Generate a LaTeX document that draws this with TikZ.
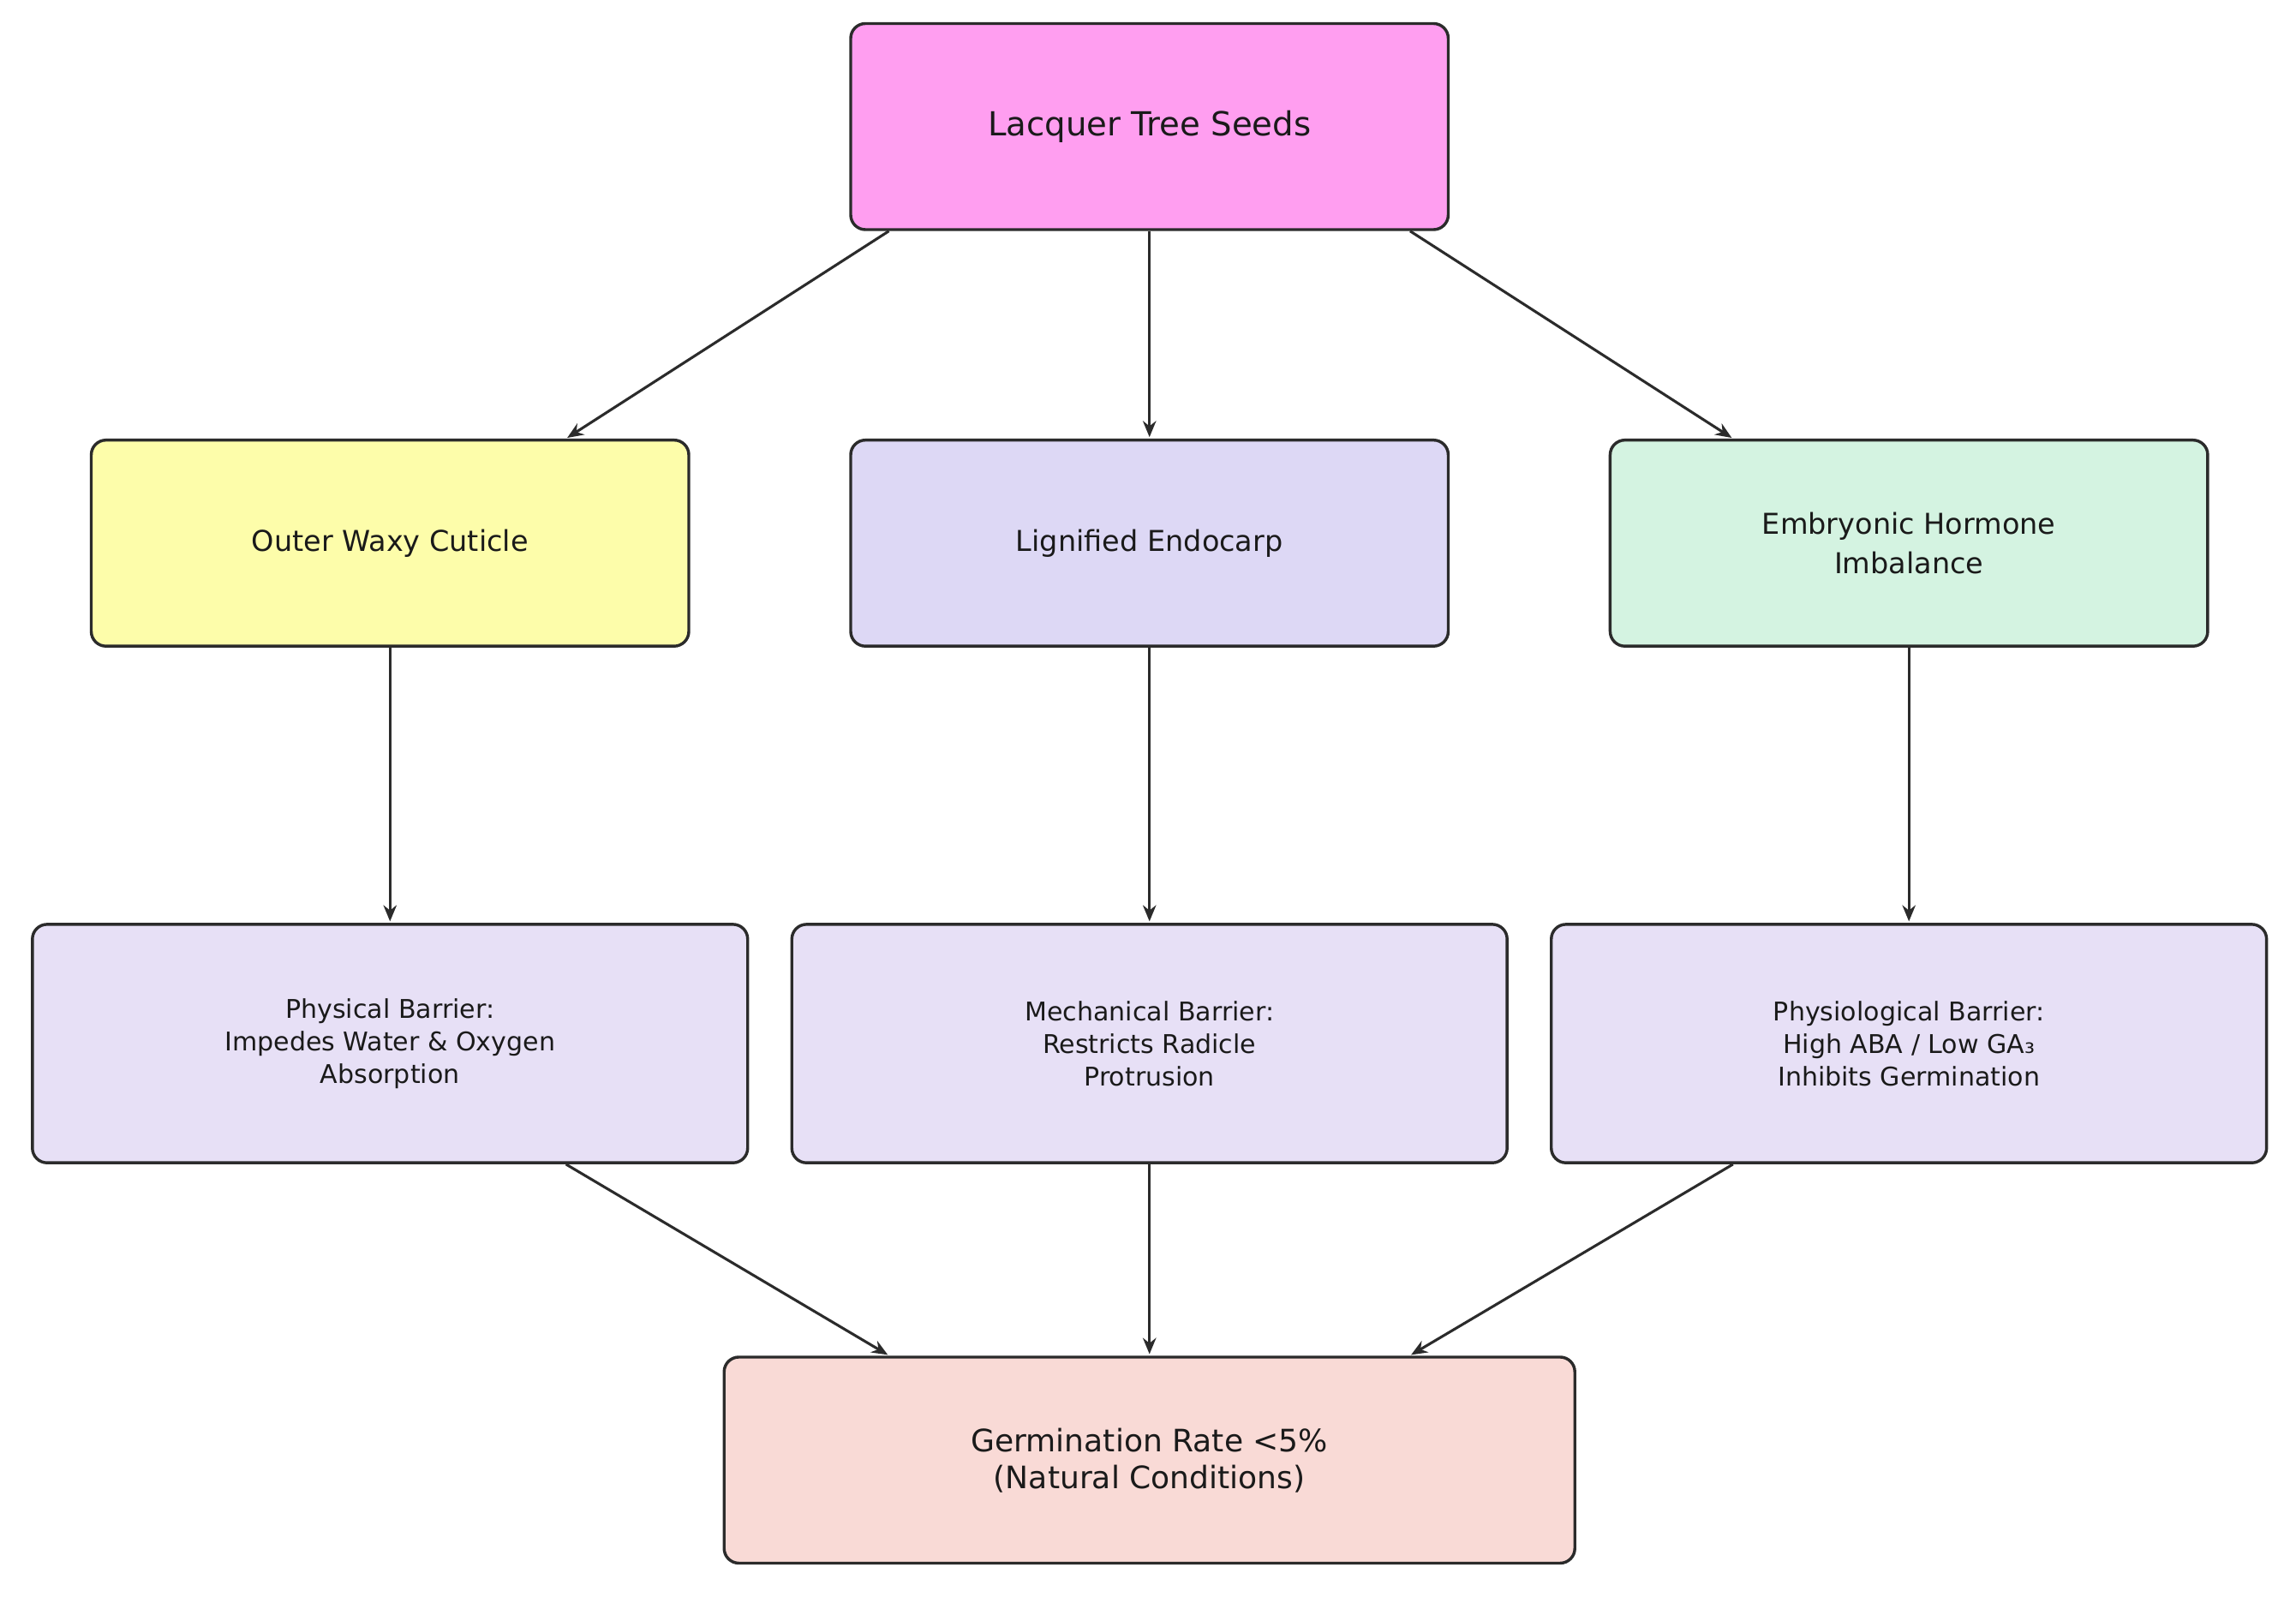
\documentclass[tikz,border=0pt]{standalone}
\usepackage{fontspec}
\setmainfont{DejaVu Sans}
\usetikzlibrary{arrows.meta,calc}
\definecolor{cPink}{HTML}{FF9EF0}
\definecolor{cYellow}{HTML}{FDFDAA}
\definecolor{cLav}{HTML}{DDD8F5}
\definecolor{cMint}{HTML}{D4F3E1}
\definecolor{cLavLight}{HTML}{E7E0F6}
\definecolor{cSalmon}{HTML}{F9DAD6}
\definecolor{cBorder}{HTML}{2B2B2B}
\definecolor{cText}{HTML}{1A1A1A}
\begin{document}
\begin{tikzpicture}[x=1pt,y=-1pt,
  box/.style={draw=cBorder, line width=2pt, rounded corners=10pt, inner sep=0pt, align=center, text=cText},
  toprow/.style={box, minimum width=406pt, minimum height=140pt},
  midrow/.style={box, minimum width=486pt, minimum height=162pt, font=\fontsize{17.5}{22}\selectfont},
  arr/.style={draw=cBorder, line width=1.8pt, -{Stealth[length=11pt,width=9pt]}, shorten >=1pt}]
\useasboundingbox (0,0) rectangle (1560,1085);
% top
\node[toprow, fill=cPink, font=\fontsize{22.5}{27}\selectfont] (seeds) at (781,86) {Lacquer Tree Seeds};
% row 2
\node[toprow, fill=cYellow, font=\fontsize{19.5}{27}\selectfont] (cuticle) at (265,369) {Outer Waxy Cuticle};
\node[toprow, fill=cLav, font=\fontsize{19.5}{27}\selectfont] (endo) at (781,369) {Lignified Endocarp};
\node[toprow, fill=cMint, font=\fontsize{19.5}{27}\selectfont] (hormone) at (1297,369) {Embryonic Hormone\\Imbalance};
% row 3
\node[midrow, fill=cLavLight] (phys) at (265,709) {Physical Barrier:\\Impedes Water \& Oxygen\\Absorption};
\node[midrow, fill=cLavLight] (mech) at (781,709) {Mechanical Barrier:\\Restricts Radicle\\Protrusion};
\node[midrow, fill=cLavLight] (physio) at (1297,709) {Physiological Barrier:\\High ABA / Low GA₃\\Inhibits Germination};
% bottom
\node[box, fill=cSalmon, minimum width=578pt, minimum height=140pt, font=\fontsize{21}{25}\selectfont] (germ) at (781,992) {Germination Rate <5\%\\(Natural Conditions)};
% arrows top -> row 2
\draw[arr] ($(seeds.south west)!0.066!(seeds.south east)$) -- ($(cuticle.north west)!0.793!(cuticle.north east)$);
\draw[arr] (seeds.south) -- (endo.north);
\draw[arr] ($(seeds.south west)!0.934!(seeds.south east)$) -- ($(hormone.north west)!0.207!(hormone.north east)$);
% row 2 -> row 3
\draw[arr] (cuticle.south) -- (phys.north);
\draw[arr] (endo.south) -- (mech.north);
\draw[arr] (hormone.south) -- (physio.north);
% row 3 -> bottom
\draw[arr] ($(phys.south west)!0.745!(phys.south east)$) -- ($(germ.north west)!0.195!(germ.north east)$);
\draw[arr] (mech.south) -- (germ.north);
\draw[arr] ($(physio.south west)!0.255!(physio.south east)$) -- ($(germ.north west)!0.805!(germ.north east)$);
\end{tikzpicture}
\end{document}
